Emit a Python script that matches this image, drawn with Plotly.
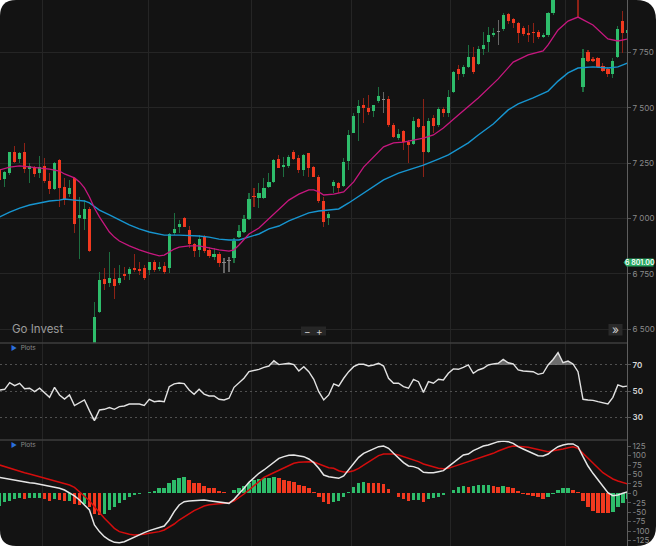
import numpy as np
import plotly.graph_objects as go

W, H = 656, 546
AX_R = 627  # right axis position, px

# ---------------- data ----------------
opens = [7223, 7178, 7205, 7300, 7268, 7300, 7223, 7232, 7205, 7237,
         7169, 7133, 7264, 7142, 7110, 7183, 7002, 6998, 7043, 6420,
         6578, 6727, 6709, 6727, 6709, 6749, 6749, 6777, 6772, 6777,
         6768, 6804, 6772, 6786, 6777, 6934, 6962, 7002, 6948, 6885,
         6858, 6916, 6858, 6826, 6840, 6799, 6808, 6822, 6916, 6939,
         6998, 7101, 7092, 7092, 7142, 7165, 7268, 7232, 7237, 7300,
         7273, 7219, 7296, 7232, 7187, 7079, 7002, 7147, 7160, 7147,
         7259, 7386, 7476, 7512, 7499, 7485, 7530, 7535, 7539, 7422,
         7363, 7395, 7345, 7336, 7449, 7417, 7300, 7454, 7422, 7494,
         7476, 7571, 7675, 7652, 7684, 7729, 7697, 7765, 7796, 7828,
         7842, 7855, 7923, 7900, 7882, 7860, 7837, 7842, 7842, 7819,
         7828, 7927, 8040, 8105, 8085, 8120, 8095, 7593, 7751, 7720,
         7724, 7688, 7675, 7652, 7729, 7891, 7837]
highs = [7228, 7214, 7300, 7327, 7300, 7341, 7250, 7237, 7282, 7273,
         7205, 7255, 7268, 7183, 7174, 7187, 7097, 7083, 7052, 6623,
         6758, 6777, 6849, 6777, 6790, 6781, 6781, 6840, 6804, 6790,
         6804, 6813, 6804, 6804, 6934, 7025, 6993, 7007, 6966, 6890,
         6925, 6925, 6871, 6867, 6849, 6822, 6826, 6912, 6971, 7016,
         7115, 7138, 7160, 7183, 7205, 7268, 7287, 7277, 7287, 7309,
         7287, 7291, 7296, 7237, 7196, 7097, 7029, 7174, 7165, 7273,
         7399, 7476, 7535, 7544, 7557, 7512, 7593, 7571, 7553, 7431,
         7404, 7399, 7354, 7458, 7454, 7539, 7454, 7467, 7503, 7503,
         7580, 7666, 7693, 7693, 7783, 7774, 7778, 7842, 7864, 7860,
         7896, 7927, 7927, 7905, 7887, 7869, 7873, 7882, 7851, 7837,
         7932, 8060, 8130, 8150, 8145, 8160, 8110, 7765, 7760, 7729,
         7729, 7702, 7684, 7724, 7869, 7936, 7855]
lows = [7156, 7142, 7196, 7250, 7250, 7205, 7160, 7187, 7183, 7160,
        7110, 7129, 7052, 7061, 7097, 6934, 6817, 6948, 6849, 6380,
        6573, 6677, 6691, 6637, 6700, 6722, 6722, 6758, 6745, 6722,
        6745, 6758, 6763, 6749, 6754, 6925, 6934, 6962, 6867, 6826,
        6826, 6844, 6822, 6813, 6781, 6754, 6758, 6799, 6912, 6934,
        6993, 7052, 7047, 7088, 7138, 7160, 7228, 7187, 7228, 7264,
        7205, 7192, 7187, 7187, 7070, 6962, 6971, 7115, 7115, 7142,
        7219, 7386, 7350, 7431, 7467, 7458, 7521, 7476, 7413, 7363,
        7354, 7309, 7250, 7332, 7408, 7187, 7296, 7386, 7413, 7458,
        7458, 7566, 7625, 7639, 7679, 7652, 7693, 7738, 7751, 7819,
        7783, 7846, 7878, 7860, 7792, 7824, 7796, 7792, 7810, 7815,
        7819, 7920, 8010, 8060, 8050, 8070, 7909, 7571, 7706, 7706,
        7679, 7661, 7639, 7634, 7724, 7747, 7830]
closes = [7174, 7210, 7300, 7255, 7296, 7223, 7237, 7201, 7232, 7169,
          7133, 7250, 7138, 7083, 7138, 6975, 7016, 7043, 6853, 6555,
          6722, 6704, 6731, 6695, 6731, 6740, 6772, 6768, 6763, 6731,
          6804, 6768, 6781, 6758, 6930, 6953, 6975, 6962, 6885, 6853,
          6907, 6853, 6831, 6840, 6799, 6799, 6808, 6898, 6943, 6998,
          7088, 7097, 7115, 7138, 7165, 7264, 7228, 7241, 7277, 7268,
          7219, 7287, 7228, 7187, 7079, 6984, 7020, 7165, 7138, 7255,
          7377, 7462, 7508, 7499, 7481, 7512, 7553, 7535, 7422, 7368,
          7381, 7345, 7332, 7440, 7413, 7300, 7440, 7417, 7494, 7476,
          7548, 7661, 7652, 7684, 7729, 7661, 7765, 7783, 7828, 7837,
          7842, 7918, 7891, 7882, 7837, 7833, 7828, 7837, 7819, 7828,
          7927, 8040, 8105, 8085, 8120, 8095, 7995, 7724, 7711, 7711,
          7684, 7666, 7652, 7711, 7855, 7837, 7851]

ma_fast_idx = [0, 2, 4, 6, 8, 10, 12, 13, 14, 15, 16, 17, 18, 19, 20, 21, 22, 23, 24, 26,
               28, 30, 32, 33, 34, 35, 36, 38, 40, 42, 44, 46, 47, 48, 49, 50, 52, 54, 56, 58,
               60, 62, 63, 64, 65, 67, 69, 71, 73, 75, 77, 79, 81, 83, 85, 87, 89, 92, 96, 100,
               103, 106, 109, 110, 112, 114, 116, 119, 122, 124, 126]
ma_fast = [7219, 7232, 7237, 7232, 7228, 7223, 7214, 7201, 7192, 7183, 7165, 7138, 7097, 7047,
           7007, 6971, 6939, 6916, 6898, 6876, 6858, 6844, 6831, 6835, 6849, 6862, 6871, 6876,
           6876, 6867, 6858, 6853, 6858, 6880, 6903, 6930, 6957, 6998, 7038, 7083, 7110, 7129,
           7129, 7120, 7106, 7110, 7120, 7165, 7232, 7277, 7323, 7341, 7345, 7354, 7363, 7377,
           7408, 7467, 7544, 7630, 7706, 7738, 7756, 7783, 7851, 7891, 7909, 7873, 7810, 7801,
           7810]
ma_slow_idx = [0, 2, 4, 6, 8, 10, 12, 13, 15, 17, 18, 20, 22, 24, 26, 28, 30, 33, 36, 40,
               42, 44, 46, 48, 50, 52, 54, 56, 58, 60, 62, 64, 65, 68, 70, 73, 77, 80, 83, 85,
               88, 90, 94, 96, 99, 102, 104, 107, 110, 112, 114, 116, 119, 122, 124, 126]
ma_slow = [7007, 7029, 7047, 7061, 7070, 7079, 7083, 7088, 7083, 7079, 7070, 7038, 7016, 6993,
           6971, 6953, 6939, 6925, 6925, 6921, 6916, 6907, 6903, 6903, 6916, 6930, 6953, 6966,
           6989, 7007, 7025, 7034, 7036, 7043, 7070, 7115, 7174, 7205, 7228, 7241, 7268, 7287,
           7341, 7377, 7426, 7490, 7517, 7544, 7575, 7620, 7657, 7679, 7684, 7679, 7684, 7702]

rsi = [51.0, 51.5, 56.6, 54.3, 56.1, 52.0, 52.3, 49.7, 52.3, 48.5,
       45.4, 53.0, 47.2, 44.1, 47.2, 39.1, 41.4, 43.4, 35.3, 27.7,
       35.8, 36.3, 37.6, 36.3, 38.3, 38.8, 40.3, 40.3, 40.3, 39.3,
       43.9, 42.1, 42.6, 42.1, 53.5, 55.6, 56.3, 55.8, 51.0, 47.7,
       51.5, 47.9, 46.4, 46.4, 43.9, 43.4, 44.7, 53.0, 56.6, 59.9,
       64.9, 65.7, 66.7, 68.2, 69.2, 73.3, 70.3, 70.8, 71.3, 70.3,
       65.4, 68.7, 64.9, 59.1, 49.7, 43.4, 47.2, 55.6, 54.0, 59.9,
       64.9, 68.7, 70.5, 70.5, 69.2, 70.0, 71.3, 69.2, 59.9, 56.1,
       56.1, 53.5, 52.3, 59.1, 57.3, 49.2, 57.3, 56.1, 59.1, 58.6,
       63.7, 67.0, 66.7, 68.2, 70.0, 63.7, 66.2, 67.5, 70.0, 70.8,
       71.3, 74.2, 71.7, 70.8, 66.2, 65.4, 65.4, 64.9, 62.9, 63.7,
       70.0, 74.2, 79.4, 71.7, 73.0, 70.8, 64.9, 43.9, 43.4, 43.1,
       42.1, 41.4, 40.3, 45.4, 54.8, 53.5, 54.0]

macd_line = [42.3, 39.7, 37.0, 35.3, 33.5, 30.9, 28.2, 26.4, 23.8, 20.2,
             17.6, 15.8, 13.2, 8.7, 1.7, -7.1, -17.7, -31.0, -44.2, -84.0,
             -101.6, -115.0, -123.8, -130.0, -130.9, -128.2, -122.0, -115.0, -110.5, -104.4,
             -99.0, -95.5, -91.1, -86.7, -70.8, -48.7, -31.0, -22.2, -20.4, -19.5,
             -17.7, -17.7, -19.5, -21.3, -23.9, -26.6, -26.6, -16.0, -2.7, 13.2,
             29.0, 42.3, 53.0, 61.8, 72.4, 83.9, 92.7, 97.2, 100.7, 101.5,
             99.8, 97.2, 90.9, 81.2, 66.2, 48.5, 44.0, 41.4, 39.7, 45.9,
             61.8, 79.5, 95.3, 106.0, 112.1, 119.2, 123.6, 125.4, 119.2, 106.0,
             92.7, 81.2, 72.4, 70.7, 66.2, 55.6, 54.7, 54.7, 57.4, 60.0,
             70.7, 81.2, 92.7, 101.5, 104.2, 113.0, 119.2, 125.4, 128.1, 132.5,
             136.9, 138.7, 136.9, 132.5, 123.6, 117.5, 112.1, 106.0, 99.8, 98.9,
             104.2, 114.8, 123.6, 128.1, 130.8, 130.8, 123.6, 97.2, 72.4, 53.0,
             35.3, 17.6, 1.7, -6.2, -4.4, 0.0, 4.3]
macd_signal = [75.0, 70.6, 66.2, 61.8, 57.4, 54.7, 51.2, 47.6, 44.1, 40.6,
               37.0, 33.5, 30.8, 26.4, 22.1, 15.8, 4.3, -7.2, -19.5, -35.4,
               -51.3, -66.4, -79.6, -92.9, -101.6, -106.0, -108.7, -110.5, -110.5, -108.7,
               -106.0, -104.4, -101.6, -97.3, -90.2, -81.4, -70.8, -61.9, -53.0, -46.0,
               -39.9, -33.7, -30.1, -28.4, -26.6, -26.6, -24.8, -20.4, -11.6, -1.9,
               8.7, 20.2, 30.8, 42.3, 48.5, 54.7, 61.8, 68.8, 75.0, 79.5,
               82.1, 83.9, 83.9, 83.0, 77.7, 72.4, 68.0, 66.2, 60.0, 56.5,
               56.5, 60.0, 66.2, 75.0, 83.9, 92.7, 99.8, 104.2, 104.2, 104.2,
               101.5, 97.2, 92.7, 88.3, 83.9, 77.7, 73.3, 68.8, 66.2, 65.3,
               66.2, 70.7, 75.0, 79.5, 83.9, 88.3, 92.7, 97.2, 101.5, 106.0,
               112.1, 117.5, 121.9, 125.4, 125.4, 123.6, 121.9, 119.2, 116.6, 112.1,
               110.4, 113.0, 114.8, 117.5, 121.0, 123.6, 119.2, 106.0, 92.7, 79.5,
               66.2, 54.7, 45.9, 38.0, 32.6, 28.2, 24.7]
macd_hist = [-32.7, -23.9, -19.5, -15.0, -13.3, -16.0, -13.3, -12.5, -11.6, -15.0,
             -19.5, -16.0, -17.7, -20.3, -19.5, -28.3, -30.9, -28.3, -35.4, -55.7,
             -56.5, -54.8, -44.2, -35.4, -26.5, -17.7, -8.8, -5.3, -1.8, 0.4,
             4.3, 7.0, 13.3, 14.0, 26.5, 35.3, 41.4, 42.3, 35.3, 28.2,
             26.5, 20.3, 13.2, 13.0, 6.1, 4.3, 1.7, 8.7, 13.2, 20.2,
             28.2, 35.3, 39.0, 40.0, 41.5, 42.3, 41.5, 35.3, 33.6, 30.9,
             22.0, 20.3, 13.2, 4.3, -8.8, -22.1, -28.0, -22.1, -19.4, -8.8,
             3.5, 17.6, 26.5, 30.0, 28.2, 27.5, 26.5, 23.8, 11.5, 2.0,
             -8.8, -15.9, -20.3, -17.7, -17.5, -23.9, -15.9, -13.3, -8.8, -5.3,
             1.0, 8.8, 15.9, 20.3, 17.7, 20.3, 21.0, 22.0, 22.5, 20.3,
             17.7, 20.3, 17.7, 13.2, 6.1, -1.0, -4.4, -7.0, -10.6, -15.0,
             -8.8, -2.7, 8.8, 13.2, 14.0, 8.8, 2.7, -20.3, -37.0, -45.9,
             -51.3, -53.0, -53.5, -48.6, -35.4, -24.7, -16.0]

price_ticks = [6500, 6750, 7000, 7250, 7500, 7750]
rsi_ticks = [30, 50, 70]
macd_ticks = [-125, -100, -75, -50, -25, 0, 25, 50, 75, 100, 125]
last_price = 6801.00
grid_pos = [8.68, 29.75, 50.55, 70.5, 90.33, 113.46]

# ---------------- styling ----------------
BG = '#131313'
GRID = '#252525'
GREEN, RED, GRAY = '#2ebd6b', '#f2391f', '#8a8a8a'
GREEN_W, RED_W, GRAY_W = '#1d6e40', '#8e2216', '#666666'
FONT = 'Inter, Lato, sans-serif'

idx = list(range(len(opens)))
n = len(idx)

body_col, wick_col = [], []
for o, c in zip(opens, closes):
    if c > o:
        body_col.append(GREEN); wick_col.append(GREEN_W)
    elif c < o:
        body_col.append(RED); wick_col.append(RED_W)
    else:
        body_col.append(GRAY); wick_col.append(GRAY_W)
body_base = [min(o, c) for o, c in zip(opens, closes)]
body_h = [max(abs(c - o), 6) for o, c in zip(opens, closes)]
wick_h = [h - l for h, l in zip(highs, lows)]

hist_col = []
for k, v in enumerate(macd_hist):
    if k == 0 or v >= macd_hist[k - 1]:
        hist_col.append(GREEN)
    else:
        hist_col.append(RED)

def fmt(v):
    s = f"{abs(v):,}".replace(',', ' ')
    return ('-' if v < 0 else '') + s

fig = go.Figure()

# main price panel
fig.add_trace(go.Bar(x=idx, y=wick_h, base=lows, width=0.22,
                     marker=dict(color=wick_col, line=dict(width=0)),
                     xaxis='x', yaxis='y'))
fig.add_trace(go.Bar(x=idx, y=body_h, base=body_base, width=0.64,
                     marker=dict(color=body_col, line=dict(width=0)),
                     xaxis='x', yaxis='y'))
fig.add_trace(go.Scatter(x=ma_slow_idx, y=ma_slow, mode='lines',
                         line=dict(color='#1795d0', width=1.4),
                         xaxis='x', yaxis='y'))
fig.add_trace(go.Scatter(x=ma_fast_idx, y=ma_fast, mode='lines',
                         line=dict(color='#c7177f', width=1.3),
                         xaxis='x', yaxis='y'))

# RSI panel
rsi_arr = np.array(rsi)
fig.add_trace(go.Scatter(x=idx, y=[70] * n, mode='lines', line=dict(width=0),
                         xaxis='x2', yaxis='y2'))
fig.add_trace(go.Scatter(x=idx, y=np.maximum(rsi_arr, 70), mode='lines', line=dict(width=0),
                         fill='tonexty', fillcolor='rgba(125,125,125,0.85)',
                         xaxis='x2', yaxis='y2'))
fig.add_trace(go.Scatter(x=idx, y=[30] * n, mode='lines', line=dict(width=0),
                         xaxis='x2', yaxis='y2'))
fig.add_trace(go.Scatter(x=idx, y=np.minimum(rsi_arr, 30), mode='lines', line=dict(width=0),
                         fill='tonexty', fillcolor='rgba(125,125,125,0.85)',
                         xaxis='x2', yaxis='y2'))
fig.add_trace(go.Scatter(x=idx, y=rsi, mode='lines',
                         line=dict(color='#e2e2e2', width=1.4),
                         xaxis='x2', yaxis='y2'))

# MACD panel
fig.add_trace(go.Bar(x=idx, y=macd_hist, width=0.7,
                     marker=dict(color=hist_col, line=dict(width=0)),
                     xaxis='x3', yaxis='y3'))
fig.add_trace(go.Scatter(x=idx, y=macd_signal, mode='lines',
                         line=dict(color='#d40d0d', width=1.5),
                         xaxis='x3', yaxis='y3'))
fig.add_trace(go.Scatter(x=idx, y=macd_line, mode='lines',
                         line=dict(color='#e6e6e6', width=1.5),
                         xaxis='x3', yaxis='y3'))

# ---------------- layout ----------------
xr = [0.06, 125.83]
xdom = [0, AX_R / W]
xcommon = dict(domain=xdom, range=xr, tickvals=grid_pos, showticklabels=False, ticks='',
               showgrid=True, gridcolor=GRID, gridwidth=1, zeroline=False, showline=False,
               fixedrange=True)
ycommon = dict(side='right', ticks='outside', ticklen=3, tickcolor='#555555',
               showline=True, linecolor='#5e5e5e', linewidth=1, zeroline=False,
               automargin=False, fixedrange=True)

d_main = [1 - 343 / H, 1]
d_rsi = [1 - 440 / H, 1 - 343 / H]
d_macd = [0, 1 - 440 / H]

fig.update_layout(
    width=W, height=H,
    margin=dict(l=0, r=0, t=0, b=0),
    paper_bgcolor='#ffffff', plot_bgcolor='rgba(0,0,0,0)',
    showlegend=False, hovermode=False, barmode='overlay', bargap=0,
    font=dict(family=FONT, color='#8d8d8d'),
    xaxis=dict(anchor='y', **xcommon),
    xaxis2=dict(anchor='y2', matches='x', **xcommon),
    xaxis3=dict(anchor='y3', matches='x', **xcommon),
    yaxis=dict(anchor='x', domain=d_main, range=[6438, 7986],
               tickvals=price_ticks, ticktext=[fmt(v) for v in price_ticks],
               showgrid=True, gridcolor=GRID,
               tickfont=dict(size=8, color='#8a8a8a'), **ycommon),
    yaxis2=dict(anchor='x2', domain=d_rsi, range=[12.96, 86.7],
                tickvals=rsi_ticks, ticktext=[str(v) for v in rsi_ticks],
                showgrid=True, gridcolor='#505050', griddash='2px,3px', gridwidth=1,
                tickfont=dict(size=8, color='#d8d8d8', weight=600), **ycommon),
    yaxis3=dict(anchor='x3', domain=d_macd, range=[-139.7, 141.3],
                tickvals=macd_ticks, ticktext=[fmt(v) for v in macd_ticks],
                showgrid=False,
                tickfont=dict(size=8, color='#8a8a8a'), **ycommon),
)

def px(xp):
    return xp / W

def py(yp):
    return 1 - yp / H

rx, ry = 16 / W, 16 / H
rx2, ry2 = 20 / W, 20 / H
bg_path = (f"M {rx},1 L {1 - rx2},1 Q 1,1 1,{1 - ry2} L 1,{ry2} Q 1,0 {1 - rx2},0 "
           f"L {rx},0 Q 0,0 0,{ry} L 0,{1 - ry} Q 0,1 {rx},1 Z")

tag_py = (7986 - last_price) / (7986 - 6438) * 343

shapes = [
    dict(type='path', xref='paper', yref='paper', path=bg_path,
         fillcolor=BG, line=dict(width=0), layer='below'),
    dict(type='line', xref='paper', yref='paper', x0=0, x1=AX_R / W,
         y0=py(343), y1=py(343), line=dict(color='#3e3e3e', width=1.5)),
    dict(type='line', xref='paper', yref='paper', x0=0, x1=AX_R / W,
         y0=py(440), y1=py(440), line=dict(color='#3e3e3e', width=1.5)),
    # zoom +/- box
    dict(type='rect', xref='paper', yref='paper', x0=px(301), x1=px(326),
         y0=py(335.5), y1=py(326.5), fillcolor='#262626', line=dict(width=0)),
    # >> button
    dict(type='rect', xref='paper', yref='paper', x0=px(608.5), x1=px(622.5),
         y0=py(335.5), y1=py(324), fillcolor='#2a2a2a', line=dict(width=0)),
    # price tag
    dict(type='path', xref='paper', yref='paper',
         path=(f"M {px(623.5)},{py(tag_py)} L {px(626.5)},{py(tag_py - 4)} "
               f"L {px(653.5)},{py(tag_py - 4)} L {px(653.5)},{py(tag_py + 4)} "
               f"L {px(626.5)},{py(tag_py + 4)} Z"),
         fillcolor='#2aa962', line=dict(width=0)),
]
fig.update_layout(shapes=shapes)

annotations = [
    dict(text='Go Invest', xref='paper', yref='paper', x=px(10), y=py(329),
         xanchor='left', yanchor='middle', showarrow=False,
         font=dict(size=11.5, color='#9c9c9c', family=FONT)),
    dict(text='<span style="color:#2a6fdb">▶</span>  Plots', xref='paper', yref='paper',
         x=px(9), y=py(348), xanchor='left', yanchor='middle', showarrow=False,
         font=dict(size=6.5, color='#8a8a8a', family=FONT)),
    dict(text='<span style="color:#2a6fdb">▶</span>  Plots', xref='paper', yref='paper',
         x=px(9), y=py(445), xanchor='left', yanchor='middle', showarrow=False,
         font=dict(size=6.5, color='#8a8a8a', family=FONT)),
    dict(text='−', xref='paper', yref='paper', x=px(307), y=py(331),
         xanchor='center', yanchor='middle', showarrow=False,
         font=dict(size=10, color='#c8c8c8', family=FONT)),
    dict(text='+', xref='paper', yref='paper', x=px(319.5), y=py(331),
         xanchor='center', yanchor='middle', showarrow=False,
         font=dict(size=10, color='#c8c8c8', family=FONT)),
    dict(text='»', xref='paper', yref='paper', x=px(615.5), y=py(329.5),
         xanchor='center', yanchor='middle', showarrow=False,
         font=dict(size=12, color='#cfcfcf', family=FONT)),
    dict(text=f"{last_price:,.2f}".replace(',', ' '), xref='paper', yref='paper',
         x=px(640), y=py(tag_py), xanchor='center', yanchor='middle', showarrow=False,
         font=dict(size=7, color='#ffffff', family=FONT, weight=600)),
]
fig.update_layout(annotations=annotations)

fig.write_html("out.html",
               config={'displayModeBar': False, 'staticPlot': True},
               post_script="document.body.style.margin='0';document.body.style.overflow='hidden';")
